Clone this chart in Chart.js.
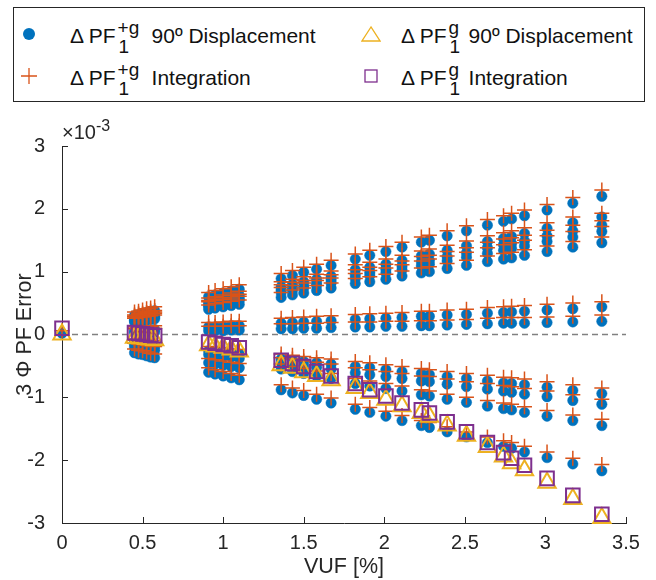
<!DOCTYPE html>
<html>
<head>
<meta charset="utf-8">
<script src="https://cdn.jsdelivr.net/npm/chart.js@4.4.1/dist/chart.umd.min.js"></script>
<style>
  body{margin:0;background:#fff;font-family:'Liberation Sans',Arial,Helvetica,sans-serif;}
  #wrap{position:relative;width:656px;height:580px;}
  #c{position:absolute;left:0;top:0;}
  #legend{position:absolute;left:13px;top:7px;width:630px;height:93px;border:1px solid #262626;background:#fff;}
  .item{position:absolute;font-size:21px;line-height:21px;color:#111;white-space:nowrap;}
  .ss{display:inline-block;position:relative;width:36px;height:21px;vertical-align:top;}
  .ss .sup{position:absolute;left:2px;top:-8px;font-size:19px;}
  .ss .sub{position:absolute;left:3px;top:11px;font-size:19px;}
  .mk{position:absolute;}
  #mult{position:absolute;left:62px;top:122px;font-size:20px;line-height:20px;color:#262626;}
  #mult span{position:relative;top:-8px;font-size:16px;}
</style>
</head>
<body>
<div id="wrap">
  <canvas id="c" width="656" height="580"></canvas>
  <div id="legend">
    <svg class="mk" style="left:5px;top:16px" width="20" height="20"><circle cx="10" cy="10" r="6" fill="#0072BD"/></svg>
    <div class="item" style="left:56px;top:17px">Δ PF<span class="ss"><span class="sup">+g</span><span class="sub">1</span></span>90º Displacement</div>
    <svg class="mk" style="left:347px;top:16px" width="20" height="20"><polygon points="10,3 1,17 19,17" fill="none" stroke="#EDB120" stroke-width="1.3"/></svg>
    <div class="item" style="left:387px;top:17px">Δ PF<span class="ss" style="width:22px"><span class="sup">g</span><span class="sub">1</span></span>90º Displacement</div>
    <svg class="mk" style="left:5px;top:58px" width="20" height="20"><path d="M10 2V18M2 10H18" stroke="#D95319" stroke-width="1.3"/></svg>
    <div class="item" style="left:56px;top:59px">Δ PF<span class="ss"><span class="sup">+g</span><span class="sub">1</span></span>Integration</div>
    <svg class="mk" style="left:347px;top:58px" width="20" height="20"><rect x="4" y="4" width="12" height="12" fill="none" stroke="#7E2F8E" stroke-width="1.3"/></svg>
    <div class="item" style="left:387px;top:59px">Δ PF<span class="ss" style="width:22px"><span class="sup">g</span><span class="sub">1</span></span>Integration</div>
  </div>
  <div id="mult">×10<span>-3</span></div>
</div>
<script>
// VUF [%] of each measured case (x)
const vuf = [0, 0.45, 0.475, 0.5, 0.525, 0.55, 0.575, 0.91, 0.95, 1.0, 1.05, 1.1,
  1.36, 1.43, 1.5, 1.58, 1.67, 1.82, 1.91, 2.01, 2.11, 2.23, 2.28, 2.39, 2.51,
  2.64, 2.74, 2.79, 2.87, 3.01, 3.17, 3.35];

// ΔPF1+g, 90º displacement  (x10^-3), one list per VUF case
const dispPos = [
  [0.02],
  [0.30,0.25,0.23,0.22,0.20,0.06,0.03,-0.13,-0.15,-0.20,-0.29],
  [0.31,0.27,0.25,0.23,0.21,0.06,0.03,-0.13,-0.16,-0.21,-0.31],
  [0.33,0.28,0.26,0.25,0.22,0.07,0.03,-0.14,-0.17,-0.22,-0.32],
  [0.35,0.29,0.27,0.26,0.23,0.07,0.03,-0.15,-0.17,-0.23,-0.34],
  [0.36,0.31,0.29,0.27,0.24,0.07,0.03,-0.15,-0.18,-0.24,-0.36],
  [0.38,0.32,0.30,0.28,0.25,0.08,0.04,-0.16,-0.19,-0.25,-0.37],
  [0.60,0.51,0.47,0.45,0.40,0.12,0.06,-0.26,-0.32,-0.45,-0.60],
  [0.63,0.53,0.49,0.47,0.42,0.12,0.06,-0.27,-0.33,-0.47,-0.63],
  [0.66,0.56,0.52,0.49,0.44,0.13,0.06,-0.28,-0.35,-0.49,-0.66],
  [0.69,0.59,0.55,0.51,0.46,0.14,0.07,-0.30,-0.36,-0.51,-0.69],
  [0.72,0.62,0.57,0.54,0.48,0.14,0.07,-0.31,-0.38,-0.53,-0.72],
  [0.89,0.76,0.71,0.67,0.59,0.18,0.09,-0.39,-0.45,-0.55,-0.88],
  [0.94,0.80,0.75,0.70,0.63,0.19,0.09,-0.41,-0.47,-0.59,-0.93],
  [0.99,0.84,0.78,0.74,0.66,0.20,0.10,-0.43,-0.50,-0.62,-0.97],
  [1.04,0.88,0.82,0.78,0.70,0.21,0.10,-0.45,-0.52,-0.66,-1.03],
  [1.10,0.93,0.87,0.82,0.74,0.22,0.11,-0.47,-0.55,-0.70,-1.09],
  [1.20,1.03,0.95,0.89,0.81,0.24,0.12,-0.51,-0.61,-0.78,-1.19],
  [1.26,1.07,0.99,0.94,0.84,0.25,0.12,-0.53,-0.64,-0.82,-1.24],
  [1.32,1.12,1.04,0.98,0.88,0.26,0.13,-0.56,-0.67,-0.86,-1.30],
  [1.39,1.18,1.09,1.03,0.93,0.27,0.13,-0.59,-0.70,-0.90,-1.37],
  [1.47,1.25,1.16,1.09,0.98,0.29,0.14,-0.62,-0.74,-0.96,-1.45],
  [1.50,1.28,1.18,1.12,1.00,0.29,0.14,-0.64,-0.75,-0.98,-1.48],
  [1.57,1.34,1.24,1.17,1.05,0.31,0.15,-0.67,-0.79,-1.03,-1.55],
  [1.65,1.41,1.30,1.23,1.10,0.32,0.16,-0.70,-0.83,-1.08,-1.63],
  [1.74,1.48,1.38,1.29,1.16,0.34,0.17,-0.74,-0.87,-1.14,-1.72],
  [1.80,1.53,1.43,1.34,1.20,0.35,0.18,-0.77,-0.90,-1.18,-1.78],
  [1.84,1.56,1.45,1.37,1.22,0.36,0.18,-0.78,-0.92,-1.20,-1.81],
  [1.89,1.61,1.49,1.41,1.26,0.37,0.18,-0.80,-0.95,-1.24,-1.87],
  [1.98,1.69,1.57,1.48,1.32,0.39,0.19,-0.84,-0.99,-1.30,-1.96],
  [2.09,1.78,1.65,1.55,1.39,0.41,0.20,-0.89,-1.05,-1.37,-2.06],
  [2.20,1.87,1.74,1.64,1.46,0.44,0.21,-0.94,-1.11,-1.45,-2.17]
];

// ΔPF1+g, integration (x10^-3)
const intPos = [
  [0.06],
  [0.36,0.31,0.29,0.28,0.26,0.12,0.09,-0.07,-0.09,-0.14,-0.23],
  [0.37,0.33,0.31,0.29,0.27,0.12,0.09,-0.07,-0.10,-0.15,-0.25],
  [0.39,0.34,0.32,0.31,0.28,0.13,0.09,-0.08,-0.11,-0.16,-0.26],
  [0.41,0.35,0.33,0.32,0.29,0.13,0.09,-0.09,-0.11,-0.17,-0.28],
  [0.42,0.37,0.35,0.33,0.30,0.13,0.09,-0.09,-0.12,-0.18,-0.30],
  [0.44,0.38,0.36,0.34,0.31,0.14,0.10,-0.10,-0.13,-0.19,-0.31],
  [0.67,0.58,0.54,0.52,0.47,0.19,0.13,-0.19,-0.25,-0.38,-0.53],
  [0.70,0.60,0.56,0.54,0.49,0.19,0.13,-0.20,-0.26,-0.40,-0.56],
  [0.73,0.63,0.59,0.56,0.51,0.20,0.13,-0.21,-0.28,-0.42,-0.59],
  [0.76,0.66,0.62,0.58,0.53,0.21,0.14,-0.23,-0.29,-0.44,-0.62],
  [0.79,0.69,0.64,0.61,0.55,0.21,0.14,-0.24,-0.31,-0.46,-0.65],
  [0.97,0.84,0.79,0.75,0.67,0.26,0.17,-0.31,-0.37,-0.47,-0.80],
  [1.02,0.88,0.83,0.78,0.71,0.27,0.17,-0.33,-0.39,-0.51,-0.85],
  [1.07,0.92,0.86,0.82,0.74,0.28,0.18,-0.35,-0.42,-0.54,-0.89],
  [1.12,0.96,0.90,0.86,0.78,0.29,0.18,-0.37,-0.44,-0.58,-0.95],
  [1.18,1.01,0.95,0.90,0.82,0.30,0.19,-0.39,-0.47,-0.62,-1.01],
  [1.28,1.11,1.03,0.97,0.89,0.32,0.20,-0.43,-0.53,-0.70,-1.11],
  [1.34,1.15,1.07,1.02,0.92,0.33,0.20,-0.45,-0.56,-0.74,-1.16],
  [1.40,1.20,1.12,1.06,0.96,0.34,0.21,-0.48,-0.59,-0.78,-1.22],
  [1.47,1.26,1.17,1.11,1.01,0.35,0.21,-0.51,-0.62,-0.82,-1.29],
  [1.55,1.33,1.24,1.17,1.06,0.37,0.22,-0.54,-0.66,-0.88,-1.37],
  [1.58,1.36,1.26,1.20,1.08,0.37,0.22,-0.56,-0.67,-0.90,-1.40],
  [1.65,1.42,1.32,1.25,1.13,0.39,0.23,-0.59,-0.71,-0.95,-1.47],
  [1.73,1.49,1.38,1.31,1.18,0.40,0.24,-0.62,-0.75,-1.00,-1.55],
  [1.83,1.57,1.47,1.38,1.25,0.43,0.26,-0.65,-0.78,-1.05,-1.63],
  [1.89,1.62,1.52,1.43,1.29,0.44,0.27,-0.68,-0.81,-1.09,-1.69],
  [1.93,1.65,1.54,1.46,1.31,0.45,0.27,-0.69,-0.83,-1.11,-1.72],
  [1.98,1.70,1.58,1.50,1.35,0.46,0.27,-0.71,-0.86,-1.15,-1.78],
  [2.07,1.78,1.66,1.57,1.41,0.48,0.28,-0.75,-0.90,-1.21,-1.87],
  [2.18,1.87,1.74,1.64,1.48,0.50,0.29,-0.80,-0.96,-1.28,-1.97],
  [2.30,1.93,1.81,1.72,1.55,0.52,0.31,-0.85,-1.03,-1.35,-2.07]
];

// ΔPF1g, 90º displacement and integration (x10^-3), one value per VUF case
const dispG = [0.0, -0.05,-0.06,-0.06,-0.07,-0.08,-0.09, -0.17,-0.19,-0.21,-0.24,-0.27,
  -0.49,-0.53,-0.60,-0.66,-0.73, -0.85,-0.93,-1.04,-1.14,-1.25,-1.31,-1.45,-1.61,
  -1.79,-1.94,-2.05,-2.16,-2.36,-2.62,-2.92];
const intG = [0.10, 0.03,0.02,0.01,0.0,-0.01,-0.02, -0.12,-0.14,-0.16,-0.18,-0.21,
  -0.41,-0.46,-0.51,-0.59,-0.66, -0.78,-0.88,-0.98,-1.09,-1.20,-1.25,-1.39,-1.55,
  -1.72,-1.88,-1.97,-2.08,-2.29,-2.56,-2.86];

const xTicks = [0, 0.5, 1, 1.5, 2, 2.5, 3, 3.5];
const yTicks = [-3, -2, -1, 0, 1, 2, 3];

const toPts = cols => cols.flatMap((ys, i) => ys.map(y => ({x: vuf[i], y})));
const onePts = ys => ys.map((y, i) => ({x: vuf[i], y}));

const axisCol = '#262626';
const family = "'Liberation Sans', Arial, Helvetica, sans-serif";
const tickFont = {family, size: 20};
const titleFont = {family, size: 21.5};

// MATLAB style inward tick marks
const innerTicks = {
  id: 'innerTicks',
  beforeDatasetsDraw(chart) {
    const {ctx, chartArea: a, scales: {x, y}} = chart;
    ctx.save();
    ctx.strokeStyle = axisCol;
    ctx.lineWidth = 1;
    ctx.beginPath();
    xTicks.forEach(v => { const p = Math.round(x.getPixelForValue(v)) + 0.5; ctx.moveTo(p, a.bottom); ctx.lineTo(p, a.bottom - 6); });
    yTicks.forEach(v => { const p = Math.round(y.getPixelForValue(v)) + 0.5; ctx.moveTo(a.left, p); ctx.lineTo(a.left + 6, p); });
    ctx.stroke();
    ctx.restore();
  }
};

new Chart(document.getElementById('c'), {
  type: 'scatter',
  data: {
    datasets: [
      {label: 'zero', type: 'line', data: [{x: xTicks[0], y: 0}, {x: xTicks[xTicks.length - 1], y: 0}],
        borderColor: '#808080', borderWidth: 1.5, borderDash: [6, 4], pointRadius: 0, order: 5},
      {label: 'dPF1+g 90 disp', data: toPts(dispPos), pointStyle: 'circle', pointRadius: 5.2,
        backgroundColor: '#0072BD', borderColor: '#0072BD', borderWidth: 0.5, order: 4, clip: false},
      {label: 'dPF1+g int', data: toPts(intPos), pointStyle: 'cross', pointRadius: 7.5,
        borderColor: '#D95319', borderWidth: 1.5, order: 3, clip: false},
      {label: 'dPF1g 90 disp', data: onePts(dispG), pointStyle: 'triangle', pointRadius: 10,
        backgroundColor: 'rgba(0,0,0,0)', borderColor: '#EDB120', borderWidth: 2, order: 2, clip: false},
      {label: 'dPF1g int', data: onePts(intG), pointStyle: 'rect', pointRadius: 9.6,
        backgroundColor: 'rgba(0,0,0,0)', borderColor: '#7E2F8E', borderWidth: 2, order: 1, clip: false}
    ]
  },
  options: {
    responsive: false,
    animation: false,
    layout: {padding: {left: 0, right: 30, top: 146, bottom: 0}},
    plugins: {legend: {display: false}, tooltip: {enabled: false}},
    scales: {
      x: {
        type: 'linear', min: 0, max: 3.5,
        afterBuildTicks: s => { s.ticks = xTicks.map(v => ({value: v})); },
        afterFit: s => { s.height = 57; },
        ticks: {font: tickFont, color: axisCol, padding: 0, maxRotation: 0, callback: v => String(v)},
        grid: {display: false},
        border: {display: true, color: axisCol, width: 1},
        title: {display: true, text: 'VUF [%]', font: titleFont, color: axisCol, padding: {top: 3, bottom: 0}}
      },
      y: {
        type: 'linear', min: -3, max: 3,
        afterBuildTicks: s => { s.ticks = yTicks.map(v => ({value: v})); },
        afterFit: s => { s.width = 62; },
        ticks: {font: tickFont, color: axisCol, padding: 9, callback: v => String(v)},
        grid: {display: false},
        border: {display: true, color: axisCol, width: 1},
        title: {display: true, text: '3 Φ PF Error', font: titleFont, color: axisCol, padding: {top: 12, bottom: 0}}
      }
    }
  },
  plugins: [innerTicks]
});
</script>
</body>
</html>
